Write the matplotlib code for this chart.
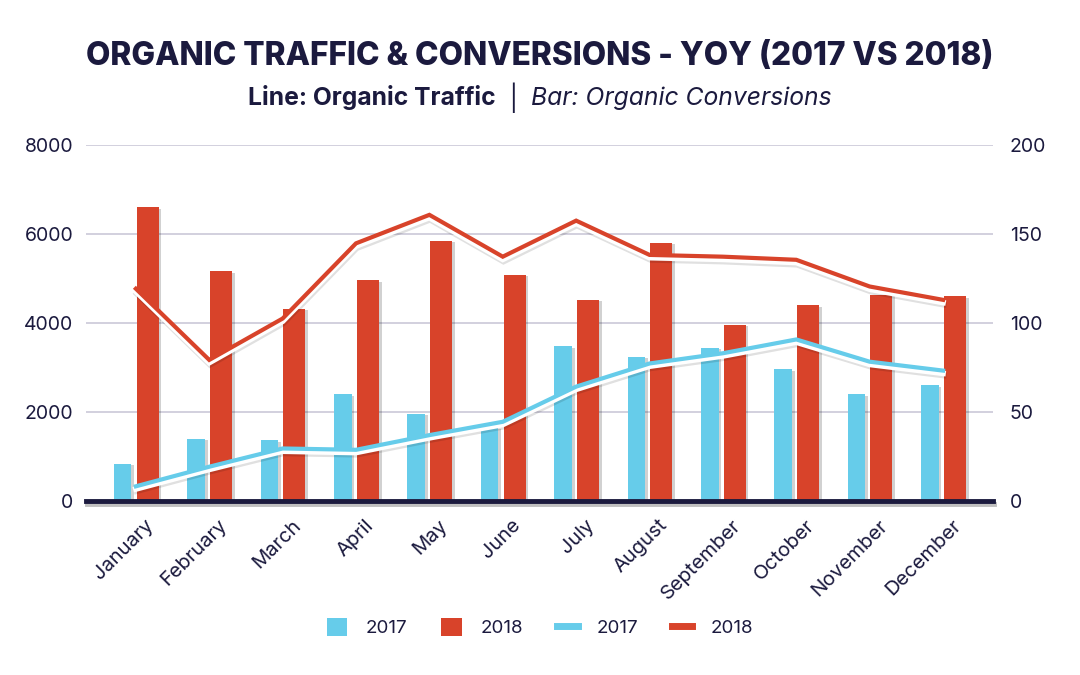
import matplotlib
matplotlib.use("Agg")
import matplotlib.pyplot as plt
import matplotlib.patheffects as pe
import matplotlib.transforms as mtransforms
import numpy as np
from matplotlib.patches import Patch
from matplotlib.lines import Line2D

# chart data
months = ["January", "February", "March", "April", "May", "June",
          "July", "August", "September", "October", "November", "December"]
conv_2017 = [21, 35, 34, 60, 49, 41, 87, 81, 86, 74, 60, 65]          # bars, right axis
conv_2018 = [165, 129, 108, 124, 146, 127, 113, 145, 99, 110, 116, 115]
traffic_2017 = [330, 770, 1180, 1150, 1480, 1780, 2570, 3090, 3320, 3630, 3130, 2930]  # lines, left axis
traffic_2018 = [4770, 3170, 4100, 5790, 6430, 5490, 6300, 5530, 5490, 5420, 4820, 4520]
left_ticks = [0, 2000, 4000, 6000, 8000]
right_ticks = [0, 50, 100, 150, 200]

blue = "#66CCEA"
red = "#D8432A"
navy = "#1B1A3E"
grid_col = "#CFCDDB"

plt.rcParams["font.family"] = ["Inter", "DejaVu Sans"]

fig = plt.figure(figsize=(10.8, 6.75), dpi=100)
ax_bar = fig.add_axes([0.0796, 0.2578, 0.8398, 0.5274])
ax_line = ax_bar.twinx()

x = np.arange(len(months))

# bars (conversions) on the lower axes, scale on the right
bar_fx = [pe.SimplePatchShadow(offset=(2, -1), shadow_rgbFace="black", alpha=0.18), pe.Normal()]
ax_bar.bar(x - 0.18, conv_2017, width=0.24, color=blue, zorder=3, path_effects=bar_fx)
ax_bar.bar(x + 0.16, conv_2018, width=0.30, color=red, zorder=3, path_effects=bar_fx)
ax_bar.set_ylim(0, 200)
ax_bar.set_yticks(right_ticks)
ax_bar.yaxis.tick_right()
ax_bar.grid(axis="y", color=grid_col, linewidth=1.3, zorder=0)
ax_bar.set_axisbelow(True)

# lines (traffic) on the top axes, scale on the left
def line_fx():
    return [pe.SimpleLineShadow(offset=(0.5, -3.6), shadow_color="black", alpha=0.12, linewidth=4),
            pe.Stroke(offset=(0, -2.0), linewidth=4, foreground="white"),
            pe.Normal()]

ax_line.plot(x, traffic_2017, color=blue, linewidth=3, solid_joinstyle="miter",
             path_effects=line_fx(), zorder=4)
ax_line.plot(x, traffic_2018, color=red, linewidth=3, solid_joinstyle="miter",
             path_effects=line_fx(), zorder=4)
ax_line.set_ylim(0, 8000)
ax_line.set_yticks(left_ticks)
ax_line.yaxis.tick_left()

# base line
ax_line.axhline(0, color=navy, linewidth=3.5, zorder=6, clip_on=False,
                path_effects=[pe.SimpleLineShadow(offset=(1, -2), alpha=0.25), pe.Normal()])

for a in (ax_bar, ax_line):
    for s in a.spines.values():
        s.set_visible(False)
    a.tick_params(axis="y", length=0, labelsize=14, labelcolor=navy)
ax_bar.tick_params(axis="y", pad=12)
ax_line.tick_params(axis="y", pad=9)

ax_bar.set_xlim(-0.68, 11.68)
ax_bar.set_xticks(x)
ax_bar.set_xticklabels(months, rotation=45, ha="right", rotation_mode="anchor")
ax_bar.tick_params(axis="x", length=0, labelsize=14.5, labelcolor=navy, pad=11)
shift = mtransforms.ScaledTranslation(9 / 100, 0, fig.dpi_scale_trans)
for lbl in ax_bar.get_xticklabels():
    lbl.set_transform(lbl.get_transform() + shift)

renderer = fig.canvas.get_renderer()

# title, sized to the reference width
title = fig.text(0.5, 0.916, "ORGANIC TRAFFIC & CONVERSIONS - YOY (2017 VS 2018)",
                 ha="center", va="center", fontsize=24, fontweight="heavy", color=navy)
tw = title.get_window_extent(renderer).width
title.set_fontsize(24 * 910 / tw)

# subtitle built from three pieces
parts = [("Line: Organic Traffic", dict(fontweight="bold")),
         ("  |  ", {}),
         ("Bar: Organic Conversions", dict(fontstyle="italic"))]
texts = [fig.text(0, 0.855, s, fontsize=15, color=navy, va="center", **kw) for s, kw in parts]
total = sum(t.get_window_extent(renderer).width for t in texts)
for t in texts:
    t.set_fontsize(15 * 584 / total)
widths = [t.get_window_extent(renderer).width for t in texts]
xpos = (fig.bbox.width - sum(widths)) / 2
for t, w in zip(texts, widths):
    t.set_x(xpos / fig.bbox.width)
    xpos += w

# legend
handles = [Patch(facecolor=blue, label="2017"),
           Patch(facecolor=red, label="2018"),
           Line2D([], [], color=blue, linewidth=5, label="2017"),
           Line2D([], [], color=red, linewidth=5, label="2018")]
fig.legend(handles=handles, loc="center", bbox_to_anchor=(0.5, 0.07), ncol=4,
           frameon=False, fontsize=13.5, labelcolor=navy, handlelength=1.1,
           handleheight=1.1, handletextpad=1.0, columnspacing=1.8)

fig.savefig("out.png", dpi=100, facecolor="white")
